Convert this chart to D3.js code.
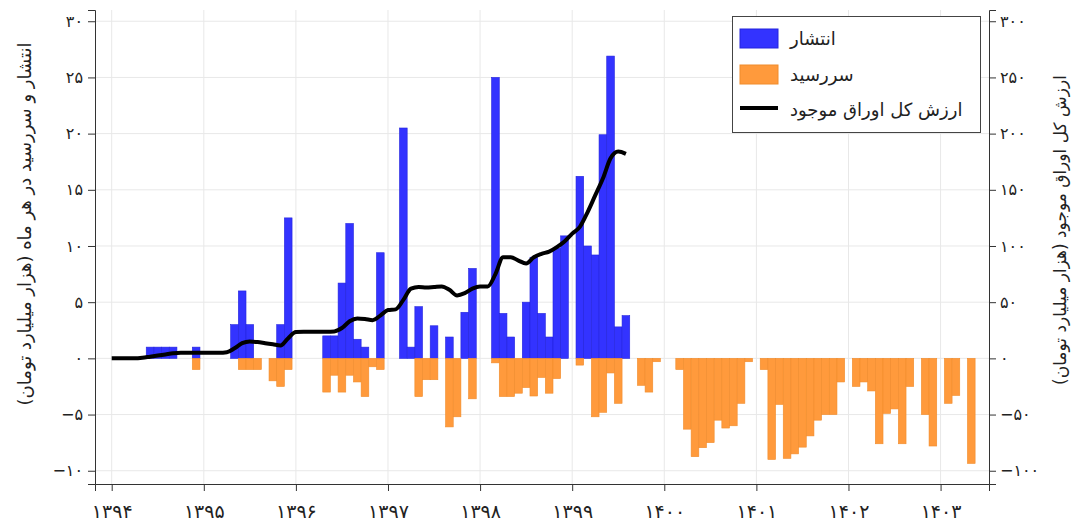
<!DOCTYPE html>
<html>
<head>
<meta charset="utf-8">
<script src="https://cdn.jsdelivr.net/npm/d3@7"></script>
<style>
  html, body { margin: 0; padding: 0; background: #fff; }
  svg { display: block; }
  text { font-family: "DejaVu Sans", sans-serif; fill: #222; }
</style>
</head>
<body>
<svg id="chart" width="1076" height="523"></svg>
<script>
// Month index 0 = Farvardin 1394
const years = [1394, 1395, 1396, 1397, 1398, 1399, 1400, 1401, 1402, 1403];
const leftTicks = [-10, -5, 0, 5, 10, 15, 20, 25, 30];
const rightTicks = [-100, -50, 0, 50, 100, 150, 200, 250, 300];

// انتشار (issuance), thousand billion toman, months 0..67
const issuance = [
  0, 0, 0, 0, 0, 1, 1, 1, 1, 0,
  0, 1, 0, 0, 0, 0, 3, 6, 3, 0,
  0, 0, 3, 12.5, 0, 0, 0, 0, 2, 2,
  6.7, 12, 1.7, 1, 0, 9.4, 0, 0, 20.5, 1,
  4.6, 0, 2.9, 0, 1.9, 0, 4.1, 8.0, 0, 0,
  25, 4.0, 1.9, 0, 5.0, 9.0, 4.0, 1.9, 9.8, 10.9,
  0, 16.2, 10.0, 9.2, 19.9, 26.9, 2.8, 3.8
];

// سررسید (maturity), months 0..112
const maturity = [
  0, 0, 0, 0, 0, 0, 0, 0, 0, 0,
  0, -1, 0, 0, 0, 0, 0, -1, -1, -1,
  0, -2.0, -2.5, -1.0, 0, 0, 0, 0, -3.0, -1.5,
  -3.0, -1.5, -2.1, -3.4, -0.75, -1.0, 0, 0, 0, 0,
  -3.4, -1.9, -1.9, 0, -6.1, -5.2, 0, -3.6, 0, 0,
  -0.4, -3.4, -3.4, -3.1, -2.6, -3.35, -1.7, -3.1, -1.8, 0,
  0, -0.6, 0, -5.2, -4.8, -1.3, -4.0, 0, 0, -2.4,
  -3.0, -0.3, 0, 0, -1.0, -6.3, -8.75, -7.95, -7.5, -5.5,
  -6.2, -6.0, -4.0, -0.3, 0, -1.0, -9.0, -4.1, -8.9, -8.5,
  -7.9, -6.9, -5.5, -5.0, -5.0, -2.1, 0, -2.5, -2.1, -2.9,
  -7.6, -4.9, -4.5, -7.6, -2.5, 0, -5.0, -7.8, 0, -4.0,
  -3.3, 0, -9.35
];

// ارزش کل اوراق موجود (outstanding), months 0..67
const outstanding = [
  0, 0, 0, 0, 0.5, 1.5, 2.5, 3.5, 4.5, 5,
  5, 5, 5, 5, 5, 5.5, 9, 13.5, 15, 14.5,
  13.5, 12.5, 11.5, 18, 23.5, 23.7, 23.7, 23.7, 23.7, 24,
  27, 33, 35.5, 35, 34, 38, 43, 43.6, 52, 62,
  63.5, 63, 63.5, 64, 61, 56, 58, 62, 64, 64,
  75, 90, 90, 87, 84.5, 90, 93, 95, 99, 104,
  111, 117, 130, 145, 160, 178, 184, 182
];

const legendLabels = ["انتشار", "سررسید", "ارزش کل اوراق موجود"];
const leftTitle = "انتشار و سررسید در هر ماه (هزار میلیارد تومان)";
const rightTitle = "ارزش کل اوراق موجود (هزار میلیارد تومان)";

const faDigits = "۰۱۲۳۴۵۶۷۸۹";
function fa(n) {
  const s = String(Math.abs(n)).replace(/[0-9]/g, d => faDigits[+d]);
  return (n < 0 ? "\u2212" : "") + s;
}

const svg = d3.select("#chart");
const L = 95, R = 989, T = 10, B = 484;

const x = d3.scaleLinear().domain([-2.176, 114.31]).range([L, R]);
const y = d3.scaleLinear().domain([-11.18, 31.0]).range([B, T]);
const y2 = d3.scaleLinear().domain([-111.8, 310]).range([B, T]);
const bw = x(1) - x(0);

// gridlines
const grid = svg.append("g");
grid.selectAll("line.h").data(leftTicks).join("line")
  .attr("x1", L).attr("x2", R)
  .attr("y1", d => y(d)).attr("y2", d => y(d))
  .attr("stroke", "#e8e8e8").attr("stroke-width", 1);
grid.selectAll("line.v").data(years).join("line")
  .attr("y1", T).attr("y2", B)
  .attr("x1", d => x((d - 1394) * 12)).attr("x2", d => x((d - 1394) * 12))
  .attr("stroke", "#e8e8e8").attr("stroke-width", 1);

// bars
svg.append("g").selectAll("rect").data(issuance.map((v, i) => ({v, i})).filter(d => d.v > 0)).join("rect")
  .attr("x", d => x(d.i) - bw / 2).attr("width", bw)
  .attr("y", d => y(d.v)).attr("height", d => y(0) - y(d.v))
  .attr("fill", "#3333ff").attr("stroke", "#2424dd").attr("stroke-width", 0.6);

svg.append("g").selectAll("rect").data(maturity.map((v, i) => ({v, i})).filter(d => d.v < 0)).join("rect")
  .attr("x", d => x(d.i) - bw / 2).attr("width", bw)
  .attr("y", y(0)).attr("height", d => y(d.v) - y(0))
  .attr("fill", "#ff9a3c").attr("stroke", "#f08c2c").attr("stroke-width", 0.6);

// line
const line = d3.line().x((d, i) => x(i)).y(d => y2(d)).curve(d3.curveMonotoneX);
svg.append("path").datum(outstanding)
  .attr("d", line).attr("fill", "none")
  .attr("stroke", "#000").attr("stroke-width", 4)
  .attr("stroke-linejoin", "round").attr("stroke-linecap", "butt");

// axes
const axL = d3.axisLeft(y).tickValues(leftTicks).tickFormat(fa).tickSizeOuter(0).tickSize(7).tickPadding(5);
const axR = d3.axisRight(y2).tickValues(rightTicks).tickFormat(fa).tickSizeOuter(0).tickSize(7).tickPadding(4);
const axB = d3.axisBottom(x).tickValues(years.map(d => (d - 1394) * 12))
  .tickFormat(d => fa(1394 + d / 12)).tickSizeOuter(0).tickSize(7).tickPadding(14);

function style(g, fs) {
  g.select(".domain").attr("stroke", "#333");
  g.selectAll(".tick line").attr("stroke", "#333");
  g.selectAll(".tick text").attr("font-size", fs).attr("fill", "#222")
    .attr("font-family", "DejaVu Sans, sans-serif");
}
svg.append("g").attr("transform", `translate(${L},0)`).call(axL).call(g => style(g, 16));
svg.append("g").attr("transform", `translate(${R},0)`).call(axR).call(g => style(g, 16));
svg.append("g").attr("transform", `translate(0,${B})`).call(axB).call(g => style(g, 19));

// axis titles
svg.append("text").attr("transform", "translate(31,224) rotate(-90)")
  .attr("text-anchor", "middle").attr("font-size", 18).text(leftTitle);
svg.append("text").attr("transform", "translate(1066,230) rotate(-90)")
  .attr("text-anchor", "middle").attr("font-size", 17).text(rightTitle);

// legend
const lg = svg.append("g");
lg.append("rect").attr("x", 732.5).attr("y", 16.5).attr("width", 248).attr("height", 116)
  .attr("fill", "#fff").attr("stroke", "#444").attr("stroke-width", 1);
const swY = [29, 65];
const swC = [["#3333ff", "#2424dd"], ["#ff9a3c", "#f08c2c"]];
lg.selectAll("rect.sw").data(swY).join("rect")
  .attr("x", 740).attr("y", d => d).attr("width", 38).attr("height", 19)
  .attr("fill", (d, i) => swC[i][0]).attr("stroke", (d, i) => swC[i][1]);
lg.append("line").attr("x1", 740).attr("x2", 778).attr("y1", 108).attr("y2", 108)
  .attr("stroke", "#000").attr("stroke-width", 4);
lg.selectAll("text").data(legendLabels).join("text")
  .attr("x", 790).attr("y", (d, i) => [45, 81, 116][i])
  .attr("font-size", 18).attr("text-anchor", "start").text(d => d);
</script>
</body>
</html>
